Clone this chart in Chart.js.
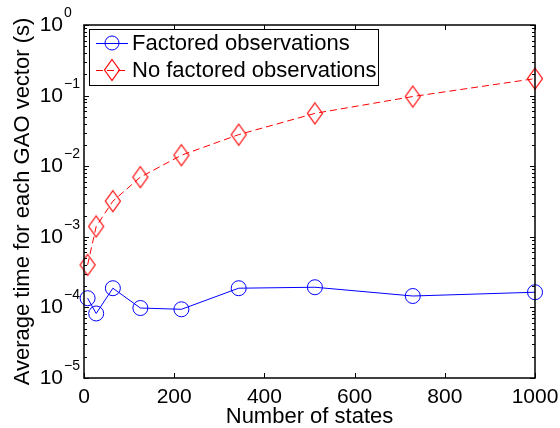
<!DOCTYPE html>
<html>
<head>
<meta charset="utf-8">
<script src="https://cdn.jsdelivr.net/npm/chart.js@4/dist/chart.umd.min.js"></script>
<style>
  body { margin: 0; background: #fff; }
  #wrap { width: 560px; height: 428px; }
</style>
</head>
<body>
<div id="wrap"><canvas id="chart" width="560" height="428"></canvas></div>
<script>
// Chart data
const states = [8, 27, 64, 125, 216, 343, 512, 729, 1000];
const factored = [1.35e-4, 8.2e-5, 1.87e-4, 9.8e-5, 9.4e-5, 1.87e-4, 1.93e-4, 1.45e-4, 1.64e-4];
const noFactored = [4.0e-4, 1.4e-3, 3.2e-3, 7.0e-3, 1.43e-2, 2.8e-2, 5.6e-2, 9.7e-2, 1.74e-1];
const xTicks = [0, 200, 400, 600, 800, 1000];
const yExponents = [-5, -4, -3, -2, -1, 0];
const seriesNames = ['Factored observations', 'No factored observations'];

const FONT = '"Liberation Sans", Arial, Helvetica, sans-serif';
const BLUE = '#0000ff';
const RED = '#ff0000';

// tall diamond marker like the matlab one
function makeDiamond(color) {
    const c = document.createElement('canvas');
    c.width = 18;
    c.height = 24;
    const g = c.getContext('2d');
    g.strokeStyle = color;
    g.lineWidth = 1.2;
    g.beginPath();
    g.moveTo(9, 1.5);
    g.lineTo(16.5, 12);
    g.lineTo(9, 22.5);
    g.lineTo(1.5, 12);
    g.closePath();
    g.stroke();
    return c;
}
const diamond = makeDiamond(RED);

// frame, inward ticks, y labels with exponents and the boxed legend
const matlabAxes = {
    id: 'matlabAxes',
    afterDraw(chart) {
        const ctx = chart.ctx;
        const area = chart.chartArea;
        const xs = chart.scales.x;
        const ys = chart.scales.y;
        ctx.save();
        ctx.strokeStyle = '#000';
        ctx.lineWidth = 1.5;
        ctx.strokeRect(area.left, area.top, area.right - area.left, area.bottom - area.top);

        ctx.lineWidth = 1;
        ctx.beginPath();
        xTicks.forEach(v => {
            const px = Math.round(xs.getPixelForValue(v)) + 0.5;
            ctx.moveTo(px, area.bottom);
            ctx.lineTo(px, area.bottom - 5);
            ctx.moveTo(px, area.top);
            ctx.lineTo(px, area.top + 5);
        });
        yExponents.forEach(e => {
            for (let m = 1; m < 10; m++) {
                if (e === 0 && m > 1) break;
                const py = Math.round(ys.getPixelForValue(m * Math.pow(10, e))) + 0.5;
                const len = m === 1 ? 5 : 3;
                ctx.moveTo(area.left, py);
                ctx.lineTo(area.left + len, py);
                ctx.moveTo(area.right, py);
                ctx.lineTo(area.right - len, py);
            }
        });
        ctx.stroke();

        ctx.fillStyle = '#000';
        ctx.textBaseline = 'alphabetic';
        yExponents.forEach(e => {
            const py = ys.getPixelForValue(Math.pow(10, e));
            ctx.font = '21px ' + FONT;
            ctx.textAlign = 'right';
            ctx.fillText('10', area.left - 21, py + 6);
            ctx.font = '14px ' + FONT;
            ctx.textAlign = 'left';
            ctx.fillText(e === 0 ? '0' : '\u2212' + Math.abs(e), area.left - 20, py - 8);
        });

        // legend box
        const lx = area.left + 5, ly = area.top + 4, lw = 289, lh = 56;
        ctx.fillStyle = '#fff';
        ctx.fillRect(lx, ly, lw, lh);
        ctx.lineWidth = 1;
        ctx.strokeStyle = '#000';
        ctx.strokeRect(lx + 0.5, ly + 0.5, lw, lh);
        const rows = [ly + 14, ly + 41];
        chart.data.datasets.forEach((ds, i) => {
            const ry = rows[i];
            ctx.strokeStyle = ds.borderColor;
            ctx.setLineDash(ds.borderDash || []);
            ctx.beginPath();
            ctx.moveTo(lx + 7, ry + 0.5);
            ctx.lineTo(lx + 39, ry + 0.5);
            ctx.stroke();
            ctx.setLineDash([]);
            const cx = lx + 23;
            if (ds.pointStyle === 'circle') {
                ctx.beginPath();
                ctx.arc(cx, ry, 7, 0, Math.PI * 2);
                ctx.stroke();
            } else {
                ctx.drawImage(ds.pointStyle, cx - 9, ry - 12);
            }
            ctx.fillStyle = '#000';
            ctx.font = '22px ' + FONT;
            ctx.textAlign = 'left';
            ctx.textBaseline = 'middle';
            ctx.fillText(ds.label, lx + 43, ry + 1);
        });
        ctx.restore();
    }
};

new Chart(document.getElementById('chart'), {
    type: 'line',
    data: {
        datasets: [{
            label: seriesNames[0],
            data: states.map((s, i) => ({ x: s, y: factored[i] })),
            borderColor: BLUE,
            borderWidth: 1,
            pointStyle: 'circle',
            pointRadius: 7.5,
            pointBorderColor: BLUE,
            pointBackgroundColor: 'rgba(0,0,0,0)',
            pointBorderWidth: 1,
            tension: 0,
            clip: false
        }, {
            label: seriesNames[1],
            data: states.map((s, i) => ({ x: s, y: noFactored[i] })),
            borderColor: RED,
            borderWidth: 1,
            borderDash: [7, 4],
            pointStyle: diamond,
            pointRadius: 10,
            tension: 0,
            clip: false
        }]
    },
    options: {
        responsive: false,
        animation: false,
        layout: { padding: { top: 25, right: 25, left: 0, bottom: 0 } },
        plugins: {
            legend: { display: false },
            tooltip: { enabled: false }
        },
        scales: {
            x: {
                type: 'linear',
                min: 0,
                max: 1000,
                afterFit: s => { s.height = 50; s.paddingLeft = 0; s.paddingRight = 0; },
                afterBuildTicks: s => { s.ticks = xTicks.map(v => ({ value: v })); },
                ticks: {
                    color: '#000',
                    font: { family: FONT, size: 21, lineHeight: 1 },
                    padding: 9,
                    maxRotation: 0,
                    callback: v => String(v)
                },
                grid: { display: false, drawTicks: false },
                border: { display: false },
                title: {
                    display: true,
                    text: 'Number of states',
                    color: '#000',
                    font: { family: FONT, size: 22, lineHeight: 1 },
                    padding: { top: 0, bottom: 0 }
                }
            },
            y: {
                type: 'logarithmic',
                min: 1e-5,
                max: 1,
                afterFit: s => { s.width = 84; },
                ticks: { display: false },
                grid: { display: false, drawTicks: false },
                border: { display: false },
                title: {
                    display: true,
                    text: 'Average time for each GAO vector (s)',
                    color: '#000',
                    font: { family: FONT, size: 22, lineHeight: 1 },
                    padding: { top: 12, bottom: 0 }
                }
            }
        }
    },
    plugins: [matlabAxes]
});
</script>
</body>
</html>
